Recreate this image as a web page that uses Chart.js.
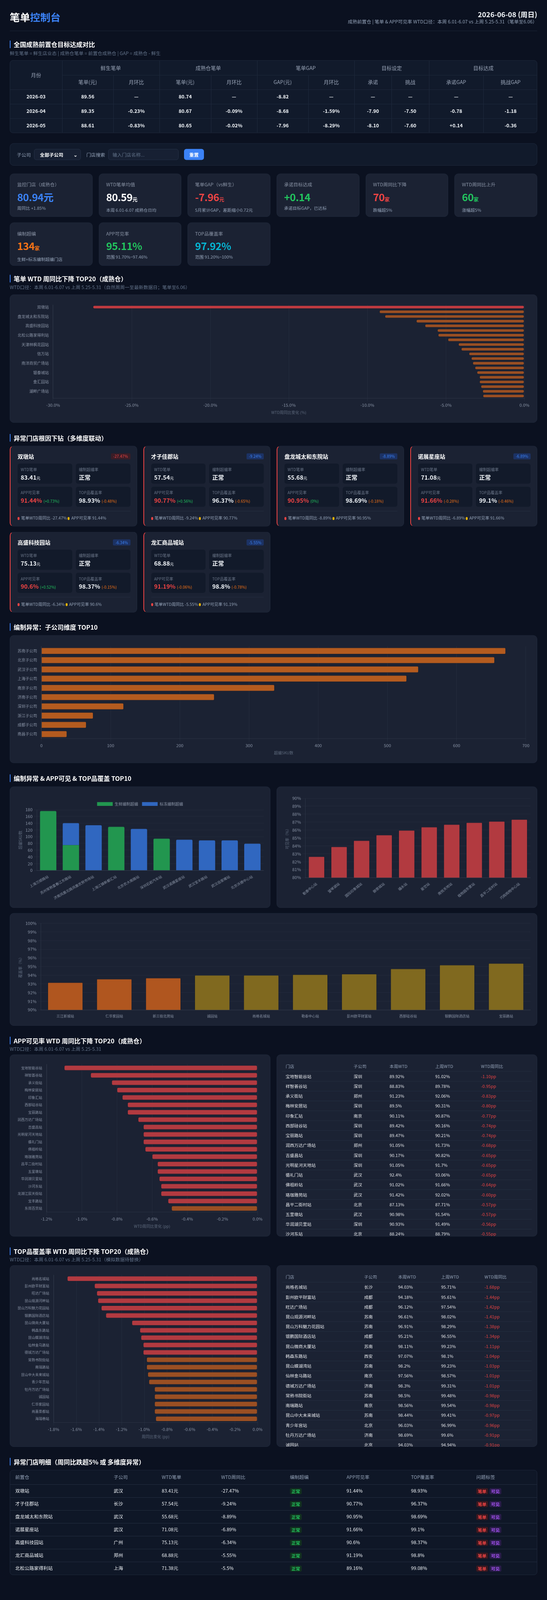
<!DOCTYPE html>
<html lang="zh-CN">
<head>
<meta charset="utf-8">
<title>笔单控制台</title>
<script src="https://cdn.jsdelivr.net/npm/chart.js@4.4.1/dist/chart.umd.min.js"></script>
<style>
* { box-sizing: border-box; }
html, body { margin: 0; padding: 0; background: #0b1120; }
body { width: 1400px; color: #e5e7eb; font-family: "Noto Sans CJK SC", "Noto Sans", sans-serif; overflow: hidden; }
.wrap { padding: 0 25px; height: 4221px; transform-origin: 0 0; }
.header { height: 82px; border-bottom: 1px solid #1e293b; display: flex; justify-content: space-between; }
.header h1 { margin: 0; padding-top: 27px; font-size: 26px; line-height: 36px; font-weight: 700; color: #fff; }
.header h1 span { color: #3b82f6; }
.header .right { text-align: right; padding-top: 25px; }
.header .date { font-size: 18px; line-height: 24px; font-weight: 700; color: #f1f5f9; }
.header .info { font-size: 12px; line-height: 16px; color: #94a3b8; }
.sec-title { font-size: 16px; line-height: 20px; height: 20px; font-weight: 700; color: #fff; border-left: 2px solid #3b82f6; padding-left: 8px; }
.sec-sub { font-size: 12px; line-height: 16px; height: 16px; color: #64748b; margin-top: 5px; }
.card { background: #1b2233; border: 1px solid #222b3d; border-radius: 10px; }
.tbl-wrap { background: #111a2b; border: 1px solid #1f2a3d; border-radius: 8px; overflow: hidden; }
table { border-collapse: collapse; width: 100%; table-layout: fixed; }
td, th { padding: 0; line-height: 16px; white-space: nowrap; overflow: hidden; }
.target tr { height: 38px; }
.target td, .target th { height: 38px; text-align: center; font-size: 13px; border-right: 1px solid #1f2a3d; border-bottom: 1px solid #1f2a3d; }
.target th { font-weight: 400; color: #9aa5b8; }
.target td { font-weight: 700; color: #f1f5f9; font-size: 12.5px; }
.target tr:last-child td { border-bottom: none; }
.target td:last-child, .target th:last-child { border-right: none; }
.filter { margin-top: 27px; height: 59px; background: #111a2b; border: 1px solid #1f2a3d; border-radius: 10px; display: flex; align-items: center; padding: 0 17px; font-size: 12px; color: #94a3b8; }
.filter .sel { width: 120px; height: 29px; margin-left: 8px; background: #172033; border: 1px solid #263247; border-radius: 6px; color: #fff; font-weight: 700; display: flex; align-items: center; justify-content: space-between; padding: 0 8px 0 14px; }
.filter .lbl2 { margin-left: 14px; }
.filter .inp { width: 180px; height: 29px; margin-left: 8px; background: #172033; border: 1px solid #263247; border-radius: 6px; color: #64748b; display: flex; align-items: center; padding-left: 10px; }
.filter .btn { width: 51px; height: 29px; margin-left: 14px; background: #3b82f6; border-radius: 6px; color: #fff; font-weight: 700; display: flex; align-items: center; justify-content: center; }
.kpis { margin-top: 21px; display: grid; grid-template-columns: repeat(6, 1fr); grid-auto-rows: 114px; column-gap: 16px; row-gap: 15px; }
.kpi { height: 114px; padding: 20px 18px 0; }
.kpi .l { font-size: 12px; line-height: 16px; color: #8b95a7; }
.kpi .v { font-size: 26px; line-height: 32px; font-weight: 700; margin-top: 9px; letter-spacing: -0.5px; }
.kpi .v small { font-size: 13px; font-weight: 700; }
.kpi .s { font-size: 11px; line-height: 14px; color: #94a3b8; margin-top: 5px; }
.chart-card { padding: 16px; }
.chart-box { position: relative; width: 100%; height: 100%; }
.ano-grid { margin-top: 11px; display: grid; grid-template-columns: repeat(4, 1fr); grid-auto-rows: 213px; column-gap: 16px; row-gap: 14px; }
.ano { height: 213px; border-left: 2px solid #ef4444; padding: 17px 16px 0 18px; overflow: hidden; }
.ano .top { display: flex; justify-content: space-between; align-items: center; height: 20px; }
.ano .name { font-size: 14px; font-weight: 700; color: #fff; }
.badge { font-size: 10px; line-height: 16px; padding: 0 6px; border-radius: 3px; }
.badge.red { background: #3a1d27; color: #ef4444; }
.badge.blue { background: #1c3264; color: #3b82f6; }
.ano .mets { margin-top: 9px; display: grid; grid-template-columns: 1fr 1fr; grid-auto-rows: 53px; gap: 8px 9px; }
.met { height: 53px; background: #121a2a; border-radius: 6px; padding: 9px 8px 0; }
.met .ml { font-size: 10px; line-height: 14px; color: #6b7689; }
.met .mv { font-size: 15px; line-height: 22px; font-weight: 700; color: #f1f5f9; margin-top: 2px; white-space: nowrap; }
.met .mv small { font-size: 10px; font-weight: 400; }
.ano .foot { margin-top: 11px; border-top: 1px solid #263042; padding-top: 11px; font-size: 10.5px; line-height: 14px; color: #94a3b8; white-space: nowrap; }
.dot { display: inline-block; width: 5px; height: 8px; border-radius: 3px; margin-right: 4px; vertical-align: -1px; }
.two { display: grid; grid-template-columns: 1fr 1fr; column-gap: 16px; }
.list { padding: 16px 13px; overflow: hidden; }
.list tr { height: 26px; }
.list th { font-size: 11px; font-weight: 400; color: #94a3b8; text-align: left; height: 27px; padding-left: 9px; border-bottom: 1px solid #263042; }
.list td { font-size: 11px; color: #e5e7eb; height: 26px; padding-left: 9px; border-bottom: 1px solid #263042; }
.list td.neg { color: #ef4444; }
.detail tr { height: 34px; }
.detail thead tr { height: 37px; }
.detail th { font-size: 12px; font-weight: 400; color: #94a3b8; text-align: left; height: 37px; padding-left: 13px; border-bottom: 1px solid #263042; }
.detail td { font-size: 12px; color: #f1f5f9; height: 34px; padding-left: 13px; border-bottom: 1px solid #263042; }
.detail tr:last-child td { border-bottom: none; }
.tag { display: inline-block; vertical-align: middle; font-size: 11px; line-height: 16px; height: 16px; padding: 0 4px; border-radius: 3px; font-weight: 700; }
.tag.ok { background: #12311f; color: #22c55e; }
.tag.r { background: #3a1820; color: #ef4444; }
.tag.p { background: #2a1c4a; color: #a855f7; margin-left: 4px; }
</style>
</head>
<body>
<div class="wrap">
  <div class="header">
    <h1>笔单<span>控制台</span></h1>
    <div class="right">
      <div class="date">2026-06-08 (周日)</div>
      <div class="info">成熟前置仓 | 笔单 &amp; APP可见率 WTD口径：本周 6.01-6.07 vs 上周 5.25-5.31（笔单至6.06）</div>
    </div>
  </div>

  <div class="sec-title" style="margin-top:25px">全国成熟前置仓目标达成对比</div>
  <div class="sec-sub">鲜生笔单 = 鲜生店业态 | 成熟仓笔单 = 前置仓成熟仓 | GAP = 成熟仓 - 鲜生</div>
  <div class="tbl-wrap" style="margin-top:11px">
    <table class="target">
      <colgroup><col style="width:133px"><col style="width:131px"><col style="width:118px"><col style="width:132px"><col style="width:118px"><col style="width:131px"><col style="width:118px"><col style="width:95px"><col style="width:96px"><col style="width:139px"><col style="width:139px"></colgroup>
      <thead>
        <tr><th rowspan="2">月份</th><th colspan="2">鲜生笔单</th><th colspan="2">成熟仓笔单</th><th colspan="2">笔单GAP</th><th colspan="2">目标设定</th><th colspan="2">目标达成</th></tr>
        <tr><th>笔单(元)</th><th>月环比</th><th>笔单(元)</th><th>月环比</th><th>GAP(元)</th><th>月环比</th><th>承诺</th><th>挑战</th><th>承诺GAP</th><th>挑战GAP</th></tr>
      </thead>
      <tbody id="targetBody"></tbody>
    </table>
  </div>

  <div class="filter">
    <span>子公司</span>
    <div class="sel"><span>全部子公司</span><span>⌄</span></div>
    <span class="lbl2">门店搜索</span>
    <div class="inp">输入门店名称...</div>
    <div class="btn">重置</div>
  </div>

  <div class="kpis" id="kpis"></div>

  <div class="sec-title" style="margin-top:24px">笔单 WTD 周同比下降 TOP20（成熟仓）</div>
  <div class="sec-sub">WTD口径：本周 6.01-6.07 vs 上周 5.25-5.31（自然周周一至最新数据日；笔单至6.06）</div>
  <div class="card chart-card" style="margin-top:11px;height:338px"><div class="chart-box"><canvas id="c1"></canvas></div></div>

  <div class="sec-title" style="margin-top:30px">异常门店根因下钻（多维度联动）</div>
  <div class="ano-grid" id="anoGrid"></div>

  <div class="sec-title" style="margin-top:28px">编制异常：子公司维度 TOP10</div>
  <div class="card chart-card" style="margin-top:12px;height:337px"><div class="chart-box"><canvas id="c2"></canvas></div></div>

  <div class="sec-title" style="margin-top:30px">编制异常 &amp; APP可见 &amp; TOP品覆盖 TOP10</div>
  <div class="two" style="margin-top:12px">
    <div class="card chart-card" style="height:320px"><div class="chart-box"><canvas id="c3"></canvas></div></div>
    <div class="card chart-card" style="height:320px"><div class="chart-box"><canvas id="c4"></canvas></div></div>
  </div>
  <div class="card chart-card" style="margin-top:14px;height:297px"><div class="chart-box"><canvas id="c5"></canvas></div></div>

  <div class="sec-title" style="margin-top:29px">APP可见率 WTD 周同比下降 TOP20（成熟仓）</div>
  <div class="sec-sub" style="margin-top:4px">WTD口径：本周 6.01-6.07 vs 上周 5.25-5.31</div>
  <div class="two" style="margin-top:7px">
    <div class="card chart-card" style="height:480px"><div class="chart-box"><canvas id="c6"></canvas></div></div>
    <div class="card list" style="height:480px">
      <table>
        <colgroup><col style="width:174px"><col style="width:92px"><col style="width:117px"><col style="width:117px"><col></colgroup>
        <thead><tr><th>门店</th><th>子公司</th><th>本周WTD</th><th>上周WTD</th><th>WTD周同比</th></tr></thead>
        <tbody id="appBody"></tbody>
      </table>
    </div>
  </div>

  <div class="sec-title" style="margin-top:29px">TOP品覆盖率 WTD 周同比下降 TOP20（成熟仓）</div>
  <div class="sec-sub" style="margin-top:4px">WTD口径：本周 6.01-6.07 vs 上周 5.25-5.31（模拟数据待替换）</div>
  <div class="two" style="margin-top:7px">
    <div class="card chart-card" style="height:479px"><div class="chart-box"><canvas id="c7"></canvas></div></div>
    <div class="card list" style="height:479px">
      <table>
        <colgroup><col style="width:201px"><col style="width:87px"><col style="width:110px"><col style="width:111px"><col></colgroup>
        <thead><tr><th>门店</th><th>子公司</th><th>本周WTD</th><th>上周WTD</th><th>WTD周同比</th></tr></thead>
        <tbody id="topBody"></tbody>
      </table>
    </div>
  </div>

  <div class="sec-title" style="margin-top:29px">异常门店明细（周同比跌超5% 或 多维度异常）</div>
  <div class="tbl-wrap" style="margin-top:12px;background:#0f1727">
    <table class="detail">
      <colgroup><col style="width:252px"><col style="width:123px"><col style="width:152px"><col style="width:176px"><col style="width:145px"><col style="width:165px"><col style="width:167px"><col></colgroup>
      <thead><tr><th>前置仓</th><th>子公司</th><th>WTD笔单</th><th>WTD周同比</th><th>编制超编</th><th>APP可见率</th><th>TOP覆盖率</th><th>问题标签</th></tr></thead>
      <tbody id="detailBody"></tbody>
    </table>
  </div>
</div>

<script>
// 目标达成表
const months = ['2026-03', '2026-04', '2026-05'];
const freshOrder = ['89.56', '89.35', '88.61'];
const freshMom = ['—', '-0.23%', '-0.83%'];
const matureOrder = ['80.74', '80.67', '80.65'];
const matureMom = ['—', '-0.09%', '-0.02%'];
const gapValue = ['-8.82', '-8.68', '-7.96'];
const gapMom = ['—', '-1.59%', '-8.29%'];
const targetPromise = ['—', '-7.90', '-8.10'];
const targetChallenge = ['—', '-7.50', '-7.60'];
const promiseGap = ['—', '-0.78', '+0.14'];
const challengeGap = ['—', '-1.18', '-0.36'];

// KPI 卡片
const kpiLabels = ['监控门店（成熟仓）', 'WTD笔单均值', '笔单GAP（vs鲜生）', '承诺目标达成', 'WTD周同比下降', 'WTD周同比上升', '编制超编', 'APP可见率', 'TOP品覆盖率'];
const kpiValues = ['80.94元', '80.59', '-7.96', '+0.14', '70', '60', '134', '95.11%', '97.92%'];
const kpiUnits = ['', '元', '元', '', '家', '家', '家', '', ''];
const kpiSubs = ['周同比 +1.85%', '本周 6.01-6.07 成熟仓日均', '5月累计GAP，差距缩小0.72元', '承诺目标GAP，已达标', '跌幅超5%', '涨幅超5%', '生鲜+标冻编制超编门店', '范围 91.70%~97.46%', '范围 91.20%~100%'];
const kpiColors = ['#3b82f6', '#ffffff', '#ef4444', '#22c55e', '#ef4444', '#22c55e', '#f97316', '#22c55e', '#06b6d4'];

// 笔单 WTD 周同比下降 TOP20
const wtdStores = ['双墩站', '才子佳郡站', '盘龙城太和东院站', '诺展星座站', '高盛科技园站', '龙汇商品城站', '北松公路家得利站', '万达广场站', '天津林枫花园站', '中山路站', '信万站', '东湖站', '南洋商贸广场站', '光谷站', '银泰城站', '汉街站', '金汇园站', '江汉路站', '湖畔广场站', '王家湾站'];
const wtdDelta = [-27.47, -9.24, -8.89, -6.89, -6.34, -5.55, -5.5, -4.88, -4.21, -4.03, -3.54, -3.39, -3.3, -3.16, -3.03, -2.87, -2.87, -2.78, -2.67, -2.65];

// 异常门店根因下钻
const anoStores = ['双墩站', '才子佳郡站', '盘龙城太和东院站', '诺展星座站', '高盛科技园站', '龙汇商品城站'];
const anoWtd = ['83.41', '57.54', '55.68', '71.08', '75.13', '68.88'];
const anoDelta = [-27.47, -9.24, -8.89, -6.89, -6.34, -5.55];
const anoApp = ['91.44%', '90.77%', '90.95%', '91.66%', '90.6%', '91.19%'];
const anoAppChg = ['+0.73%', '+0.56%', '0%', '-0.28%', '+0.52%', '-0.06%'];
const anoTop = ['98.93%', '96.37%', '98.69%', '99.1%', '98.37%', '98.8%'];
const anoTopChg = ['-0.48%', '-0.65%', '-0.18%', '-0.46%', '-0.15%', '-0.78%'];

// 编制异常：子公司维度
const subCompanies = ['苏南子公司', '北京子公司', '武汉子公司', '上海子公司', '南京子公司', '济南子公司', '深圳子公司', '浙江子公司', '成都子公司', '南昌子公司'];
const subOverSku = [671, 655, 545, 528, 337, 250, 119, 75, 65, 37];

// 编制超编门店
const overStores = ['上海万顺路站', '苏州常熟富春江东路站', '济南凤凰北路凤凰农贸市场站', '上海江镇新都汇站', '北京农大南路站', '深圳石岩汽车站', '武汉诺展星座站', '武汉宝丰路站', '武汉岳家嘴站', '北京沃德中心站'];
const overFresh = [176, 75, 0, 129, 0, 94, 0, 0, 0, 0];
const overFrozen = [0, 65, 134, 0, 123, 0, 91, 89, 89, 79];

// APP可见率 TOP10（最低）
const lowAppStores = ['勒泰中心站', '望琴湖站', '国际印象城站', '御景城站', '福永站', '星空站', '南悦天地站', '植物园东里站', '昌平二街村站', '巧购购物中心站'];
const lowAppRate = [82.66, 83.91, 84.68, 85.39, 85.97, 86.39, 86.71, 86.95, 87.11, 87.35];

// TOP品覆盖率 TOP10（最低）
const lowTopStores = ['三江新城站', '仁华家园站', '新三街北苑站', '诚园站', '尚格名城站', '勒泰中心站', '彭州欧平财富站', '西部硅谷站', '银鹏国际酒店站', '宝丽路站'];
const lowTopRate = [93.17, 93.57, 93.69, 94.01, 94.01, 94.09, 94.15, 94.76, 95.19, 95.38];

// APP可见率 WTD 周同比下降 TOP20
const appStores = ['宝地智能谷站', '祥智荟谷站', '承义街站', '梅林安居站', '印象汇站', '西部硅谷站', '宝丽路站', '润西万达广场站', '吉盛昌站', '光明星河天地站', '循礼门站', '佛祖岭站', '珞珈雅苑站', '昌平二街村站', '五里墩站', '华润湖贝里站', '沙河东站', '龙湖江宸天街站', '宝丰路站', '东周百货站'];
const appDelta = [-1.10, -0.95, -0.83, -0.80, -0.77, -0.74, -0.74, -0.68, -0.65, -0.65, -0.65, -0.64, -0.60, -0.57, -0.57, -0.56, -0.55, -0.55, -0.51, -0.49];
const appCompany = ['深圳', '深圳', '郑州', '深圳', '南京', '深圳', '深圳', '郑州', '深圳', '深圳', '武汉', '武汉', '武汉', '北京', '武汉', '深圳', '北京'];
const appThisWeek = ['89.92%', '88.83%', '91.23%', '89.5%', '90.11%', '89.42%', '89.47%', '91.05%', '90.17%', '91.05%', '92.4%', '91.02%', '91.42%', '87.13%', '90.98%', '90.93%', '88.24%'];
const appLastWeek = ['91.02%', '89.78%', '92.06%', '90.31%', '90.87%', '90.16%', '90.21%', '91.73%', '90.82%', '91.7%', '93.06%', '91.66%', '92.02%', '87.71%', '91.54%', '91.49%', '88.79%'];

// TOP品覆盖率 WTD 周同比下降 TOP20
const topStores = ['尚格名城站', '彭州欧平财富站', '旺达广场站', '昆山观源河畔站', '昆山万科魅力花园站', '银鹏国际酒店站', '昆山微商大厦站', '韩森东路站', '昆山蝶湖湾站', '仙林金马路站', '德城万达广场站', '常熟书院街站', '南瑞路站', '昆山中大未来城站', '青少年宫站', '牡丹万达广场站', '诚园站', '仁华家园站', '尚嘉景都站', '海瑞巷站'];
const topDelta = [-1.68, -1.44, -1.42, -1.41, -1.38, -1.34, -1.11, -1.04, -1.03, -1.01, -1.01, -0.98, -0.98, -0.97, -0.96, -0.91, -0.91, -0.91, -0.91, -0.90];
const topCompany = ['长沙', '成都', '成都', '苏南', '苏南', '成都', '苏南', '西安', '苏南', '南京', '济南', '苏南', '南京', '苏南', '北京', '济南', '北京'];
const topThisWeek = ['94.03%', '94.18%', '96.12%', '96.61%', '96.91%', '95.21%', '98.11%', '97.07%', '98.2%', '97.56%', '98.3%', '98.5%', '98.56%', '98.44%', '96.03%', '98.69%', '94.03%'];
const topLastWeek = ['95.71%', '95.61%', '97.54%', '98.02%', '98.29%', '96.55%', '99.23%', '98.1%', '99.23%', '98.57%', '99.31%', '99.48%', '99.54%', '99.41%', '96.99%', '99.6%', '94.94%'];

// 异常门店明细
const detStores = ['双墩站', '才子佳郡站', '盘龙城太和东院站', '诺展星座站', '高盛科技园站', '龙汇商品城站', '北松公路家得利站'];
const detCompany = ['武汉', '长沙', '武汉', '武汉', '广州', '郑州', '上海'];
const detWtd = ['83.41元', '57.54元', '55.68元', '71.08元', '75.13元', '68.88元', '71.38元'];
const detDelta = ['-27.47%', '-9.24%', '-8.89%', '-6.89%', '-6.34%', '-5.55%', '-5.5%'];
const detApp = ['91.44%', '90.77%', '90.95%', '91.66%', '90.6%', '91.19%', '89.16%'];
const detTop = ['98.93%', '96.37%', '98.69%', '99.1%', '98.37%', '98.8%', '99.08%'];

// ---------- 表格与卡片 ----------
let html = '';
for (let i = 0; i < months.length; i++) {
  html += '<tr><td>' + [months[i], freshOrder[i], freshMom[i], matureOrder[i], matureMom[i], gapValue[i], gapMom[i], targetPromise[i], targetChallenge[i], promiseGap[i], challengeGap[i]].join('</td><td>') + '</td></tr>';
}
document.getElementById('targetBody').innerHTML = html;

html = '';
for (let i = 0; i < kpiLabels.length; i++) {
  const unit = kpiUnits[i] ? '<small>' + kpiUnits[i] + '</small>' : '';
  html += '<div class="card kpi"><div class="l">' + kpiLabels[i] + '</div><div class="v" style="color:' + kpiColors[i] + '">' + kpiValues[i] + unit + '</div><div class="s">' + kpiSubs[i] + '</div></div>';
}
document.getElementById('kpis').innerHTML = html;

html = '';
for (let i = 0; i < anoStores.length; i++) {
  const badge = anoDelta[i] < -10 ? 'red' : 'blue';
  const appCol = anoAppChg[i].startsWith('-') ? '#f97316' : '#22c55e';
  html += '<div class="card ano"><div class="top"><span class="name">' + anoStores[i] + '</span><span class="badge ' + badge + '">' + anoDelta[i] + '%</span></div>' +
    '<div class="mets">' +
    '<div class="met"><div class="ml">WTD笔单</div><div class="mv">' + anoWtd[i] + '<small>元</small></div></div>' +
    '<div class="met"><div class="ml">编制超编率</div><div class="mv">正常</div></div>' +
    '<div class="met"><div class="ml">APP可见率</div><div class="mv"><span style="color:#ef4444">' + anoApp[i] + '</span> <small style="color:' + appCol + '">(' + anoAppChg[i] + ')</small></div></div>' +
    '<div class="met"><div class="ml">TOP品覆盖率</div><div class="mv">' + anoTop[i] + ' <small style="color:#f97316">(' + anoTopChg[i] + ')</small></div></div>' +
    '</div><div class="foot"><span class="dot" style="background:#ef4444"></span>笔单WTD周同比 ' + anoDelta[i] + '% <span class="dot" style="background:#eab308"></span>APP可见率 ' + anoApp[i] + '</div></div>';
}
document.getElementById('anoGrid').innerHTML = html;

html = '';
for (let i = 0; i < appCompany.length; i++) {
  html += '<tr><td>' + appStores[i] + '</td><td>' + appCompany[i] + '</td><td>' + appThisWeek[i] + '</td><td>' + appLastWeek[i] + '</td><td class="neg">' + appDelta[i].toFixed(2) + 'pp</td></tr>';
}
document.getElementById('appBody').innerHTML = html;

html = '';
for (let i = 0; i < topCompany.length; i++) {
  html += '<tr><td>' + topStores[i] + '</td><td>' + topCompany[i] + '</td><td>' + topThisWeek[i] + '</td><td>' + topLastWeek[i] + '</td><td class="neg">' + topDelta[i].toFixed(2) + 'pp</td></tr>';
}
document.getElementById('topBody').innerHTML = html;

html = '';
for (let i = 0; i < detStores.length; i++) {
  html += '<tr><td>' + detStores[i] + '</td><td>' + detCompany[i] + '</td><td>' + detWtd[i] + '</td><td>' + detDelta[i] + '</td><td><span class="tag ok">正常</span></td><td>' + detApp[i] + '</td><td>' + detTop[i] + '</td><td><span class="tag r">笔单</span><span class="tag p">可见</span></td></tr>';
}
document.getElementById('detailBody').innerHTML = html;

// ---------- 图表 ----------
Chart.defaults.font.family = '"Noto Sans CJK SC", "Noto Sans", sans-serif';
Chart.defaults.color = '#8b95a7';
Chart.defaults.font.size = 11;
Chart.defaults.animation = false;

const GRID = 'rgba(148,163,184,0.08)';
const AXIS = 'rgba(148,163,184,0.15)';
const RED = '#c23b41';
const RED2 = '#b23a40';
const ORANGE = '#9a4f23';

function hbar(id, labels, values, colorFn, opts) {
  return new Chart(document.getElementById(id), {
    type: 'bar',
    data: {
      labels: labels,
      datasets: [{
        data: values,
        backgroundColor: values.map(colorFn),
        borderColor: 'rgba(0,0,0,0.15)',
        borderWidth: 1,
        borderRadius: 4,
        borderSkipped: false
      }]
    },
    options: {
      indexAxis: 'y',
      responsive: true,
      maintainAspectRatio: false,
      layout: { padding: opts.padding || 0 },
      plugins: { legend: { display: false }, tooltip: { enabled: false } },
      scales: {
        x: {
          min: opts.min, max: opts.max,
          ticks: { stepSize: opts.step, callback: opts.fmt, font: { size: 11 } },
          grid: { color: GRID },
          border: { color: AXIS },
          title: { display: true, text: opts.title, font: { size: 10 }, color: '#5f6b7e' }
        },
        y: {
          grid: { display: false },
          border: { color: AXIS },
          ticks: { autoSkip: false, font: { size: opts.ySize }, callback: opts.yCb || function (v, i) { return labels[i]; } }
        }
      }
    }
  });
}

hbar('c1', wtdStores, wtdDelta, v => v < -10 ? RED : ORANGE, {
  min: -30, max: 0, step: 5, fmt: v => v.toFixed(1) + '%', title: 'WTD周同比变化 (%)', ySize: 10,
  padding: { top: 10, right: 4 },
  yCb: (v, i) => i % 2 === 0 ? wtdStores[i] : ''
});

new Chart(document.getElementById('c2'), {
  type: 'bar',
  data: { labels: subCompanies, datasets: [{ data: subOverSku, backgroundColor: '#b45b1f', borderColor: 'rgba(0,0,0,0.15)', borderWidth: 1, borderRadius: 3 }] },
  options: {
    indexAxis: 'y', responsive: true, maintainAspectRatio: false,
    layout: { padding: { top: 12, right: 6 } },
    plugins: { legend: { display: false }, tooltip: { enabled: false } },
    scales: {
      x: { min: 0, max: 700, ticks: { stepSize: 100 }, grid: { color: GRID }, border: { color: AXIS },
        title: { display: true, text: '超编SKU数', font: { size: 10 }, color: '#5f6b7e' } },
      y: { grid: { display: false }, border: { color: AXIS }, ticks: { font: { size: 10 } } }
    }
  }
});

new Chart(document.getElementById('c3'), {
  type: 'bar',
  data: {
    labels: overStores,
    datasets: [
      { label: '生鲜编制超编', data: overFresh, backgroundColor: '#22964f', borderRadius: 3 },
      { label: '标冻编制超编', data: overFrozen, backgroundColor: '#3067c0', borderRadius: 3 }
    ]
  },
  options: {
    responsive: true, maintainAspectRatio: false,
    layout: { padding: { top: 14 } },
    plugins: {
      legend: { position: 'top', labels: { boxWidth: 40, boxHeight: 10, font: { size: 10 }, color: '#8b95a7' } },
      tooltip: { enabled: false }
    },
    scales: {
      x: { stacked: true, grid: { display: false }, border: { color: AXIS },
        ticks: { autoSkip: false, maxRotation: 30, minRotation: 30, font: { size: 9 } } },
      y: { stacked: true, min: 0, max: 180, ticks: { stepSize: 20 }, grid: { color: GRID }, border: { color: AXIS },
        title: { display: true, text: '超编SKU数', font: { size: 10 }, color: '#5f6b7e' } }
    }
  }
});

new Chart(document.getElementById('c4'), {
  type: 'bar',
  data: { labels: lowAppStores, datasets: [{ data: lowAppRate, backgroundColor: RED2, borderColor: 'rgba(0,0,0,0.15)', borderWidth: 1, borderRadius: 2 }] },
  options: {
    responsive: true, maintainAspectRatio: false,
    layout: { padding: { top: 14 } },
    plugins: { legend: { display: false }, tooltip: { enabled: false } },
    scales: {
      x: { grid: { display: false }, border: { color: AXIS },
        ticks: { autoSkip: false, maxRotation: 40, minRotation: 40, font: { size: 9 } } },
      y: { min: 80, max: 90, ticks: { stepSize: 1, callback: v => v + '%' }, grid: { color: GRID }, border: { color: AXIS },
        title: { display: true, text: '可见率（%）', font: { size: 10 }, color: '#5f6b7e' } }
    }
  }
});

new Chart(document.getElementById('c5'), {
  type: 'bar',
  data: { labels: lowTopStores, datasets: [{ data: lowTopRate, backgroundColor: lowTopRate.map(v => v < 94 ? '#b0561f' : '#80691f'), borderColor: 'rgba(0,0,0,0.2)', borderWidth: 1, borderRadius: 2 }] },
  options: {
    responsive: true, maintainAspectRatio: false,
    layout: { padding: { top: 8 } },
    plugins: { legend: { display: false }, tooltip: { enabled: false } },
    scales: {
      x: { grid: { display: false }, border: { color: AXIS }, ticks: { autoSkip: false, maxRotation: 0, font: { size: 9 } } },
      y: { min: 90, max: 100, ticks: { stepSize: 1, callback: v => v + '%' }, grid: { color: GRID }, border: { color: AXIS },
        title: { display: true, text: '覆盖率（%）', font: { size: 10 }, color: '#5f6b7e' } }
    }
  }
});

hbar('c6', appStores, appDelta, v => v < -0.5 ? RED2 : ORANGE, {
  min: -1.2, max: 0, step: 0.2, fmt: v => v.toFixed(1) + '%', title: 'WTD周同比变化 (pp)', ySize: 9,
  padding: { top: 8, right: 4 }
});

hbar('c7', topStores, topDelta, v => v <= -1 ? RED2 : ORANGE, {
  min: -1.8, max: 0, step: 0.2, fmt: v => v.toFixed(1) + '%', title: '周同比变化 (pp)', ySize: 9,
  padding: { top: 8, right: 4 }
});

// 窗口高度不足 4221 时，整页纵向压缩以完整显示
const fit = window.innerHeight / 4221;
if (fit < 1) {
  document.querySelector('.wrap').style.transform = 'scaleY(' + fit + ')';
  document.body.style.height = window.innerHeight + 'px';
}
</script>
</body>
</html>
